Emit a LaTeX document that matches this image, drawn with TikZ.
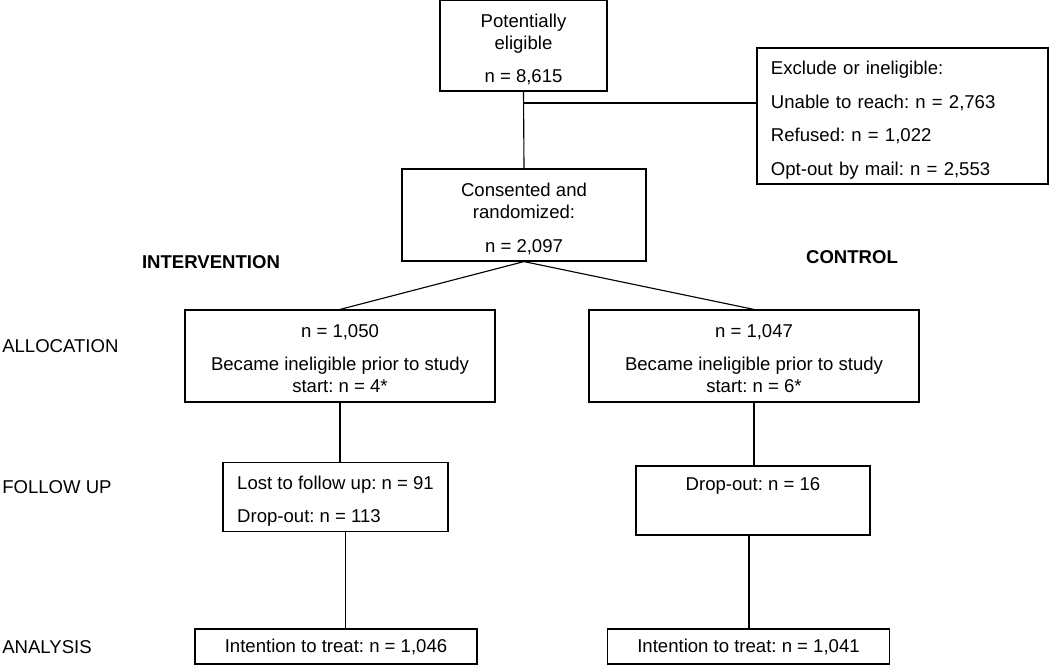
\documentclass[tikz,border=0pt]{standalone}
\usepackage{fontspec}
\setmainfont{Liberation Sans}
\frenchspacing
\newcommand{\lift}[1][15.5pt]{\rule{0pt}{#1}}

\begin{document}
\begin{tikzpicture}[x=0.025cm, y=-0.025cm,
    every node/.style={font=\fontsize{13.2}{15.6}\selectfont},
    box/.style={draw, line width=0.8pt, inner sep=0pt, align=center},
    lbox/.style={draw, line width=0.8pt, inner ysep=0pt, align=left},
    arm/.style={font=\fontsize{13.2}{15.6}\selectfont\bfseries},
    phase/.style={anchor=west, inner sep=0pt},
    link/.style={line width=0.8pt}]

    \useasboundingbox (0,0) rectangle (1050,665);

    % enrolment
    \node[box, minimum width=4.175cm, minimum height=2.275cm] (elig) at (523.5,45.5)
        {\lift Potentially\\eligible\\[7.9pt]n = 8,615};
    \node[lbox, text width=6.575cm, inner xsep=0.35cm, minimum height=3.4cm] (excl) at (902.5,116)
        {\lift Exclude or ineligible:\\[8.3pt]Unable to reach: n = 2,763\\[8.3pt]Refused: n = 1,022\\[8.3pt]Opt-out by mail: n = 2,553};
    \node[box, minimum width=6.1cm, minimum height=2.3cm] (rand) at (524,215)
        {\lift Consented and\\randomized:\\[9pt]n = 2,097};

    \node[arm] (armI) at (211,262) {INTERVENTION};
    \node[arm] (armC) at (852,257) {CONTROL};

    % allocation
    \node[box, minimum width=7.75cm, minimum height=2.3cm] (allocI) at (340,356)
        {\lift[12.9pt]n = 1,050\\[7.9pt]Became ineligible prior to study\\start: n = 4*};
    \node[box, minimum width=8.25cm, minimum height=2.3cm] (allocC) at (754,356)
        {\lift[12.9pt]n = 1,047\\[7.9pt]Became ineligible prior to study\\start: n = 6*};

    % follow up
    \node[lbox, minimum width=5.625cm, minimum height=1.725cm] (fupI) at (335.5,497)
        {\lift Lost to follow up: n = 91\\[7.9pt]Drop-out: n = 113};
    \node[box, minimum width=5.85cm, minimum height=1.725cm] (fupC) at (753,500.5)
        {Drop-out: n = 16\\[7.9pt]\mbox{}};

    % analysis
    \node[box, minimum width=7.05cm, minimum height=0.875cm] (itI) at (336,646.5)
        {Intention to treat: n = 1,046};
    \node[box, minimum width=7.05cm, minimum height=0.875cm] (itC) at (748.5,646.5)
        {Intention to treat: n = 1,041};

    \node[phase] (pAlloc) at (2,346) {ALLOCATION};
    \node[phase] (pFup) at (2,487) {FOLLOW UP};
    \node[phase] (pAna) at (2,647) {ANALYSIS};

    % connectors
    \coordinate (split) at (elig.south |- 0,103);
    \draw[link] (elig.south) -- (rand.north);
    \draw[link] (split) -- (split -| excl.west);
    \draw[link] (rand.south) -- (allocI.north);
    \draw[link] (rand.south) -- (allocC.north);
    \draw[link] (allocI.south) -- (allocI.south |- fupI.north);
    \draw[link] (allocC.south) -- (allocC.south |- fupC.north);
    \draw[link] ([xshift=0.24cm]fupI.south) -- ([xshift=0.24cm]fupI.south |- itI.north);
    \draw[link] ([xshift=-0.1cm]fupC.south) -- ([xshift=-0.1cm]fupC.south |- itC.north);

\end{tikzpicture}
\end{document}
